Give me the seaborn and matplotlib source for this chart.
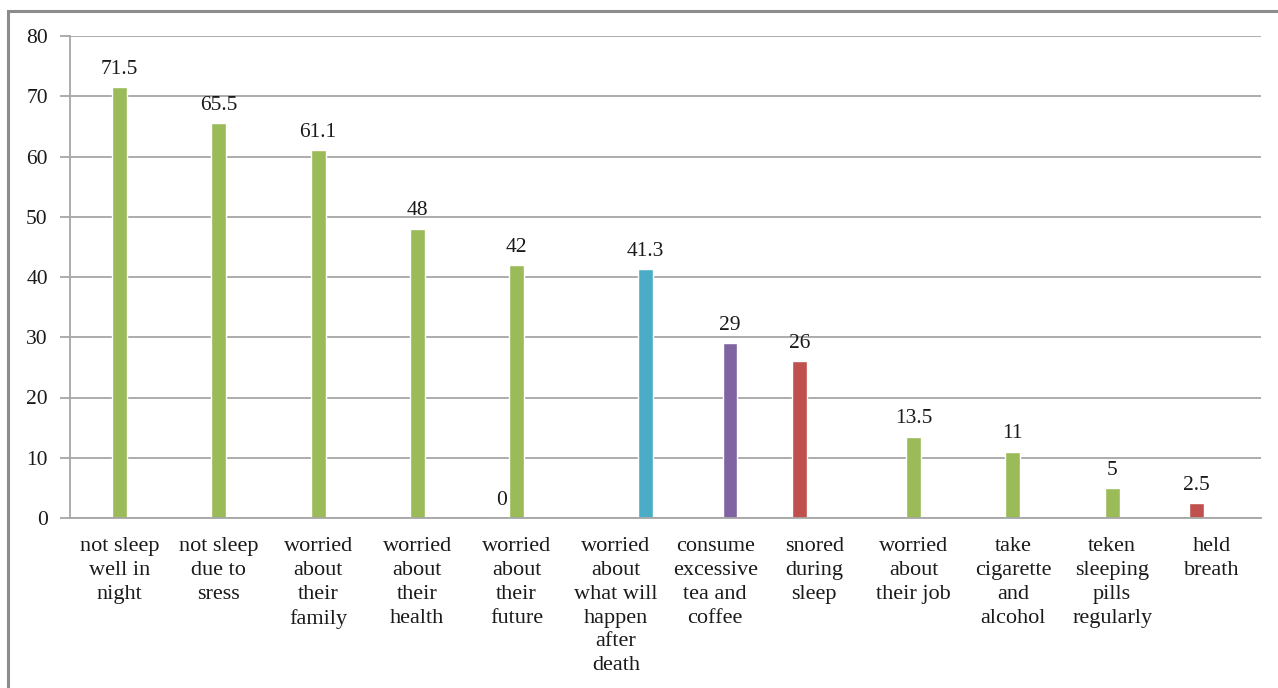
import numpy as np
import pandas as pd
import matplotlib
matplotlib.use("Agg")
import matplotlib.pyplot as plt
from matplotlib.patches import Rectangle
import seaborn as sns

# Categories (x axis labels, wrapped)
categories = [
    "not sleep\nwell in\nnight",
    "not sleep\ndue to\nsress",
    "worried\nabout\ntheir\nfamily",
    "worried\nabout\ntheir\nhealth",
    "worried\nabout\ntheir\nfuture",
    "worried\nabout\nwhat will\nhappen\nafter\ndeath",
    "consume\nexcessive\ntea and\ncoffee",
    "snored\nduring\nsleep",
    "worried\nabout\ntheir job",
    "take\ncigarette\nand\nalcohol",
    "teken\nsleeping\npills\nregularly",
    "held\nbreath",
]

# Series values (percent); NaN where a series has no bar
series_names = ["Series1", "Series2", "Series3", "Series4", "Series5"]
series1 = [np.nan] * 12
series2 = [np.nan, np.nan, np.nan, np.nan, 0, np.nan, np.nan, 26, np.nan, np.nan, np.nan, 2.5]
series3 = [71.5, 65.5, 61.1, 48, 42, np.nan, np.nan, np.nan, 13.5, 11, 5, np.nan]
series4 = [np.nan, np.nan, np.nan, np.nan, np.nan, np.nan, 29, np.nan, np.nan, np.nan, np.nan, np.nan]
series5 = [np.nan, np.nan, np.nan, np.nan, np.nan, 41.3, np.nan, np.nan, np.nan, np.nan, np.nan, np.nan]

y_ticks = [0, 10, 20, 30, 40, 50, 60, 70, 80]

colors = ["#4F81BD", "#C0504D", "#9BBB59", "#8064A2", "#4BACC6"]

rows = []
for name, vals in zip(series_names, [series1, series2, series3, series4, series5]):
    for cat, v in zip(categories, vals):
        if not np.isnan(v):
            rows.append({"category": cat, "series": name, "value": v})
df = pd.DataFrame(rows)

sns.set_theme(style="white")
plt.rcParams["font.family"] = ["Liberation Serif", "DejaVu Serif"]
text_color = "#1a1a1a"
grid_color = "#a6a6a6"

fig = plt.figure(figsize=(12.78, 6.88), dpi=100)
W, H = 1278, 688
ax = fig.add_axes([70 / W, 1 - 518 / H, (1261 - 70) / W, (518 - 36) / H])

sns.barplot(
    data=df, x="category", y="value", hue="series",
    order=categories, hue_order=series_names, palette=colors,
    width=0.75, dodge=True, errorbar=None, legend=False,
    saturation=1, ax=ax,
)

ax.set_xlim(-0.5, len(categories) - 0.5)
ax.set_ylim(0, 80)
ax.set_yticks(y_ticks)
ax.set_xlabel("")
ax.set_ylabel("")

# Value labels above the bars
for cont in ax.containers:
    ax.bar_label(cont, fmt="{:g}", padding=6, fontsize=15.5, color=text_color)

# Horizontal gridlines
ax.yaxis.grid(True, color=grid_color, linewidth=1.3)
ax.xaxis.grid(False)
ax.set_axisbelow(True)

for side in ["top", "right"]:
    ax.spines[side].set_visible(False)
for side in ["left", "bottom"]:
    ax.spines[side].set_color(grid_color)
    ax.spines[side].set_linewidth(1.3)

# Category labels centred, tick marks on the category boundaries
ax.set_xticks(range(len(categories)))
ax.set_xticklabels(categories, fontsize=16, color=text_color, linespacing=1.34, va="top")
ax.set_xticks(np.arange(-0.5, len(categories), 1.0), minor=True)
ax.tick_params(axis="x", which="major", length=0, pad=14)
ax.tick_params(axis="x", which="minor", length=6, width=1.3, color=grid_color, direction="out")
ax.tick_params(axis="y", which="major", length=7, width=1.3, color=grid_color,
               labelsize=15.5, labelcolor=text_color, pad=9, left=True)

# Outer chart frame
fig.patches.append(Rectangle((8 / W, -0.1), 1.2, 1 - 11 / H + 0.1, transform=fig.transFigure,
                             fill=False, edgecolor="#8c8c8c", linewidth=2.2))

fig.savefig("out.png", dpi=100)
